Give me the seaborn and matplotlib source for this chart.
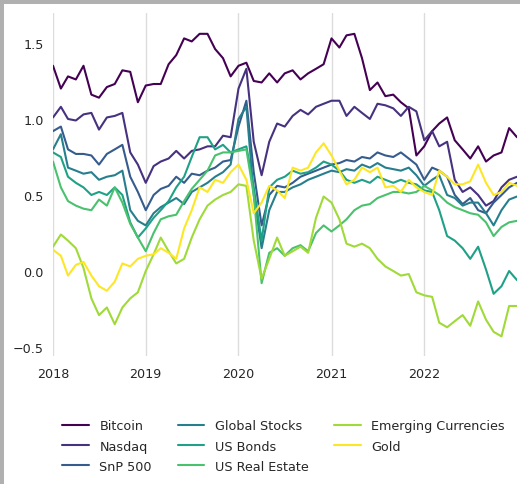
import numpy as np
import pandas as pd
import matplotlib
matplotlib.use("Agg")
import matplotlib.pyplot as plt
from matplotlib.patches import Rectangle
import seaborn as sns

# ---------------- data (monthly readings, Jan 2018 .. Jan 2023) ----------------
dates = pd.date_range("2018-01-01", periods=61, freq="MS")

assets = ["Bitcoin", "Nasdaq", "SnP 500", "Global Stocks", "US Bonds",
          "US Real Estate", "Emerging Currencies", "Gold"]

bitcoin = [1.35, 1.20, 1.28, 1.26, 1.35, 1.16, 1.14, 1.21, 1.23, 1.32,
           1.31, 1.11, 1.22, 1.23, 1.23, 1.36, 1.42, 1.53, 1.51, 1.56,
           1.56, 1.46, 1.40, 1.28, 1.35, 1.37, 1.25, 1.24, 1.30, 1.24,
           1.30, 1.32, 1.26, 1.30, 1.33, 1.36, 1.53, 1.47, 1.55, 1.56,
           1.40, 1.19, 1.24, 1.15, 1.16, 1.11, 1.07, 0.76, 0.82, 0.92,
           0.97, 1.01, 0.86, 0.80, 0.74, 0.82, 0.72, 0.76, 0.78, 0.94, 0.88]

nasdaq = [1.01, 1.08, 1.00, 0.99, 1.03, 1.04, 0.93, 1.01, 1.02, 1.04,
          0.78, 0.70, 0.58, 0.69, 0.72, 0.74, 0.79, 0.74, 0.79, 0.80,
          0.82, 0.82, 0.89, 0.88, 1.20, 1.33, 0.85, 0.63, 0.85, 0.97,
          0.95, 1.02, 1.06, 1.03, 1.08, 1.10, 1.12, 1.12, 1.02, 1.08,
          1.04, 1.00, 1.10, 1.09, 1.07, 1.02, 1.08, 1.05, 0.86, 0.92,
          0.82, 0.85, 0.60, 0.52, 0.55, 0.50, 0.43, 0.46, 0.55, 0.60, 0.62]

snp500 = [0.92, 0.95, 0.80, 0.77, 0.77, 0.76, 0.70, 0.77, 0.80, 0.83,
          0.62, 0.52, 0.40, 0.50, 0.54, 0.56, 0.62, 0.58, 0.64, 0.63,
          0.66, 0.68, 0.72, 0.73, 0.95, 1.12, 0.65, 0.30, 0.50, 0.56,
          0.55, 0.58, 0.62, 0.64, 0.66, 0.68, 0.70, 0.71, 0.73, 0.72,
          0.75, 0.74, 0.78, 0.76, 0.75, 0.78, 0.74, 0.70, 0.60, 0.68,
          0.66, 0.62, 0.50, 0.44, 0.48, 0.40, 0.38, 0.45, 0.50, 0.55, 0.58]

global_stocks = [0.80, 0.90, 0.68, 0.66, 0.64, 0.65, 0.60, 0.62, 0.63, 0.66,
                 0.40, 0.33, 0.30, 0.38, 0.42, 0.45, 0.48, 0.44, 0.52, 0.55,
                 0.58, 0.62, 0.65, 0.70, 1.00, 1.08, 0.50, 0.15, 0.40, 0.52,
                 0.52, 0.55, 0.57, 0.60, 0.62, 0.64, 0.66, 0.65, 0.67, 0.66,
                 0.70, 0.68, 0.71, 0.68, 0.67, 0.66, 0.68, 0.63, 0.56, 0.60,
                 0.63, 0.50, 0.48, 0.43, 0.45, 0.45, 0.38, 0.30, 0.40, 0.47, 0.49]

us_bonds = [0.78, 0.75, 0.62, 0.58, 0.55, 0.50, 0.52, 0.50, 0.55, 0.50,
            0.32, 0.22, 0.28, 0.35, 0.40, 0.46, 0.55, 0.62, 0.75, 0.88,
            0.88, 0.80, 0.83, 0.78, 0.80, 0.82, 0.55, 0.20, 0.55, 0.60,
            0.62, 0.66, 0.64, 0.65, 0.68, 0.72, 0.70, 0.66, 0.60, 0.58,
            0.60, 0.58, 0.62, 0.60, 0.58, 0.60, 0.58, 0.57, 0.53, 0.52,
            0.40, 0.23, 0.20, 0.15, 0.08, 0.16, 0.01, -0.15, -0.10, 0.00, -0.06]

us_real_estate = [0.72, 0.55, 0.46, 0.43, 0.41, 0.40, 0.47, 0.43, 0.55, 0.45,
                  0.31, 0.22, 0.13, 0.25, 0.34, 0.36, 0.37, 0.46, 0.54, 0.60,
                  0.66, 0.76, 0.78, 0.78, 0.79, 0.80, 0.50, -0.08, 0.12, 0.15,
                  0.10, 0.15, 0.17, 0.13, 0.25, 0.30, 0.26, 0.30, 0.34, 0.40,
                  0.43, 0.44, 0.48, 0.50, 0.52, 0.52, 0.51, 0.52, 0.56, 0.53,
                  0.50, 0.45, 0.42, 0.40, 0.38, 0.37, 0.32, 0.23, 0.29, 0.32, 0.33]

emerging_currencies = [0.16, 0.24, 0.20, 0.15, 0.02, -0.18, -0.29, -0.24, -0.35, -0.24,
                       -0.18, -0.14, 0.00, 0.11, 0.22, 0.13, 0.05, 0.08, 0.22, 0.34,
                       0.43, 0.47, 0.50, 0.52, 0.57, 0.56, 0.20, -0.05, 0.08, 0.22,
                       0.10, 0.13, 0.16, 0.12, 0.35, 0.49, 0.45, 0.34, 0.18, 0.16,
                       0.18, 0.15, 0.08, 0.03, 0.00, -0.03, -0.02, -0.14, -0.16, -0.17,
                       -0.34, -0.37, -0.33, -0.29, -0.36, -0.20, -0.32, -0.40, -0.43, -0.23, -0.23]

gold = [0.14, 0.10, -0.03, 0.04, 0.06, -0.03, -0.10, -0.13, -0.07, 0.05,
        0.03, 0.08, 0.10, 0.11, 0.15, 0.12, 0.08, 0.28, 0.40, 0.55,
        0.52, 0.60, 0.58, 0.65, 0.70, 0.60, 0.38, 0.45, 0.56, 0.53,
        0.48, 0.68, 0.66, 0.68, 0.78, 0.84, 0.76, 0.66, 0.57, 0.60,
        0.68, 0.65, 0.68, 0.55, 0.56, 0.52, 0.60, 0.55, 0.52, 0.50,
        0.66, 0.62, 0.57, 0.57, 0.59, 0.70, 0.58, 0.50, 0.52, 0.58, 0.56]

year_ticks = ["2018", "2019", "2020", "2021", "2022"]
y_ticks = [-0.5, 0.0, 0.5, 1.0, 1.5]

series = [bitcoin, nasdaq, snp500, global_stocks, us_bonds,
          us_real_estate, emerging_currencies, gold]

df = pd.DataFrame({"date": np.tile(dates, len(assets)),
                   "value": np.concatenate(series),
                   "asset": np.repeat(assets, len(dates))})

# ---------------- styling ----------------
sns.set_style("white")
plt.rcParams["font.family"] = ["DejaVu Sans"]
FS = 9.2
palette = [matplotlib.colors.to_hex(c) for c in plt.cm.viridis(np.linspace(0, 1, len(assets)))]

fig = plt.figure(figsize=(5.2, 4.85), dpi=100)
fig.patch.set_facecolor("white")
# grey frame strips (top and left) as in the reference screenshot
fig.patches.append(Rectangle((0, 1 - 5 / 485), 1, 5 / 485, transform=fig.transFigure,
                             facecolor="#b0b0b0", edgecolor="none", zorder=0))
fig.patches.append(Rectangle((0, 0), 4 / 520, 1, transform=fig.transFigure,
                             facecolor="#b0b0b0", edgecolor="none", zorder=0))

ax = fig.add_axes([53 / 520, 1 - 357 / 485, (517 - 53) / 520, (357 - 14) / 485])

sns.lineplot(data=df, x="date", y="value", hue="asset", hue_order=assets,
             palette=palette, linewidth=1.5, ax=ax, legend=True)

ax.set_xlim(pd.Timestamp("2018-01-01"), pd.Timestamp("2023-01-01"))
ax.set_ylim(-0.559, 1.697)
ax.set_xticks([pd.Timestamp(f"{y}-01-01") for y in year_ticks])
ax.set_xticklabels(year_ticks)
ax.set_yticks(y_ticks)
ax.set_yticklabels([f"{v:.1f}".replace("-", "\u2212") for v in y_ticks])
ax.set_xlabel("")
ax.set_ylabel("")
for s in ax.spines.values():
    s.set_visible(False)
ax.grid(axis="x", color="#dcdcdc", linewidth=1.0)
ax.grid(axis="y", visible=False)
ax.tick_params(axis="y", length=3.5, width=0.8, color="#262626", labelsize=FS,
               labelcolor="#262626", pad=3)
ax.tick_params(axis="x", length=0, labelsize=FS, labelcolor="#262626", pad=8)

handles, labels = ax.get_legend_handles_labels()
ax.get_legend().remove()
fig.legend(handles, labels, ncol=3, loc="upper center",
           bbox_to_anchor=(283.5 / 520, 1 - 409 / 485), frameon=False,
           fontsize=FS, handlelength=2.1, handletextpad=0.8, columnspacing=2.0,
           labelspacing=0.55)

fig.savefig("out.png", dpi=100)
